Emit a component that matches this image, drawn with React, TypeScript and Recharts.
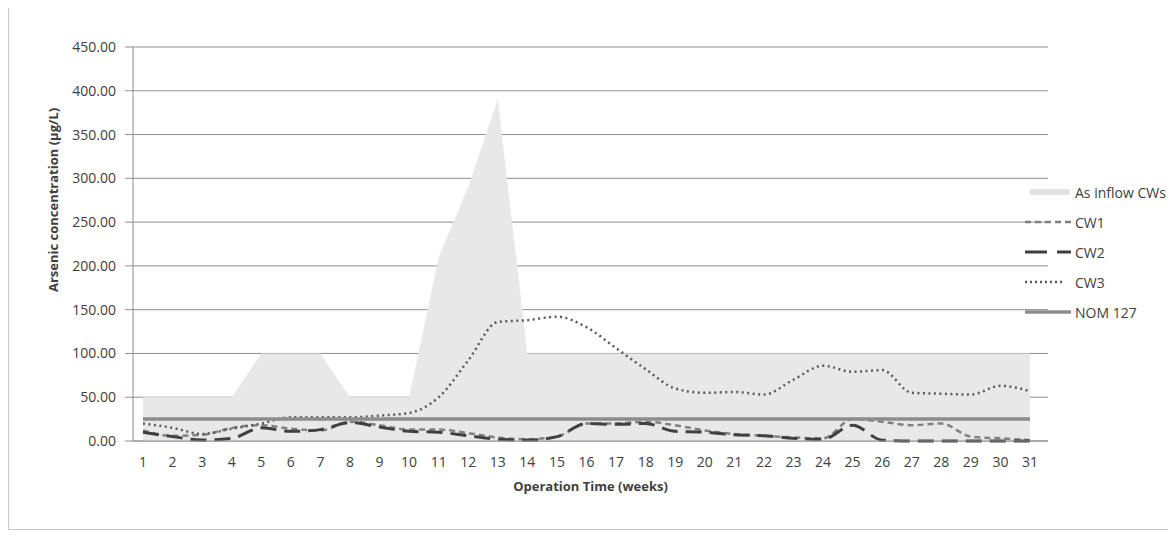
import { Area, CartesianGrid, ComposedChart, Legend, Line, XAxis, YAxis } from "recharts";

// operation weeks
const weeks = ["1", "2", "3", "4", "5", "6", "7", "8", "9", "10", "11", "12", "13", "14", "15", "16",
  "17", "18", "19", "20", "21", "22", "23", "24", "25", "26", "27", "28", "29", "30", "31"];

// arsenic concentration (µg/L)
const inflow = [50, 50, 50, 50, 100, 100, 100, 50, 50, 50, 210, 290, 390, 100, 100, 100,
  100, 100, 100, 100, 100, 100, 100, 100, 100, 100, 100, 100, 100, 100, 100];
const cw1 = [12, 6, 7, 15, 18, 14, 12, 22, 18, 13, 13, 9, 4, 2, 5, 20,
  20, 22, 18, 12, 8, 6, 4, 3, 25, 22, 18, 20, 5, 3, 1];
const cw2 = [10, 5, 1, 3, 15, 11, 13, 21, 16, 11, 10, 6, 2, 1, 5, 20,
  19, 20, 11, 10, 7, 6, 3, 2, 18, 1, 0, 0, 0, 0, 0];
const cw3 = [20, 15, 8, 14, 20, 27, 27, 27, 29, 32, 50, 92, 136, 138, 142, 130,
  106, 82, 60, 55, 56, 53, 70, 86, 79, 81, 55, 54, 53, 63, 57];
const nom127 = [25, 25, 25, 25, 25, 25, 25, 25, 25, 25, 25, 25, 25, 25, 25, 25,
  25, 25, 25, 25, 25, 25, 25, 25, 25, 25, 25, 25, 25, 25, 25];

const yTicks = [0, 50, 100, 150, 200, 250, 300, 350, 400, 450];

const data = weeks.map((week, i) => ({
  week,
  inflow: inflow[i],
  cw1: cw1[i],
  cw2: cw2[i],
  cw3: cw3[i],
  nom: nom127[i],
}));

const FONT = "'Open Sans', 'Liberation Sans', sans-serif";
const TEXT = "#404040";

const legendItems = [
  { key: "inflow", label: "As inflow CWs" },
  { key: "cw1", label: "CW1" },
  { key: "cw2", label: "CW2" },
  { key: "cw3", label: "CW3" },
  { key: "nom", label: "NOM 127" },
];

const swatch = (key: string) => {
  switch (key) {
    case "inflow":
      return <rect x={5} y={2} width={40} height={6} fill="#e2e2e2" />;
    case "cw1":
      return <line x1={0} x2={46} y1={5} y2={5} stroke="#808080" strokeWidth={2.5} strokeDasharray="6 4" />;
    case "cw2":
      return <line x1={0} x2={46} y1={5} y2={5} stroke="#404040" strokeWidth={3} strokeDasharray="22 10" />;
    case "cw3":
      return <line x1={0} x2={40} y1={5} y2={5} stroke="#595959" strokeWidth={2.5} strokeDasharray="2 3" />;
    default:
      return <line x1={0} x2={46} y1={5} y2={5} stroke="#8c8c8c" strokeWidth={3.5} />;
  }
};

const renderLegend = () => (
  <div style={{ fontFamily: FONT, fontSize: 14, color: TEXT }}>
    {legendItems.map((item) => (
      <div key={item.key} style={{ display: "flex", alignItems: "center", height: 30 }}>
        <svg width={46} height={10}>{swatch(item.key)}</svg>
        <span style={{ marginLeft: 4, whiteSpace: "nowrap" }}>{item.label}</span>
      </div>
    ))}
  </div>
);

const YTitle = (props: any) => {
  const vb = props.viewBox || { x: 44, y: 39, height: 394 };
  const x = vb.x;
  const y = vb.y + vb.height / 2 - 44;
  return (
    <text
      x={x}
      y={y}
      textAnchor="middle"
      dominantBaseline="central"
      transform={`rotate(-90 ${x} ${y})`}
      style={{ fontFamily: FONT, fontSize: 13, fontWeight: 700, fill: TEXT }}
    >
      Arsenic concentration (µg/L)
    </text>
  );
};

export default function App() {
  return (
    <div
      style={{
        width: 1168,
        height: 522,
        boxSizing: "border-box",
        borderLeft: "1px solid #c8c8c8",
        borderBottom: "1px solid #c8c8c8",
        overflow: "hidden",
        background: "#fff",
      }}
    >
      <ComposedChart width={1160} height={521} data={data} margin={{ top: 39, right: 121, bottom: 28, left: 44 }}>
        <CartesianGrid vertical={false} stroke="#8f8f8f" />
        <XAxis
          dataKey="week"
          interval={0}
          padding={{ left: 10, right: 18 }}
          tickLine={false}
          axisLine={{ stroke: "#8f8f8f" }}
          tickSize={6}
          tickMargin={10}
          height={60}
          tick={{ fontFamily: FONT, fontSize: 14, fill: TEXT }}
          label={{
            value: "Operation Time  (weeks)",
            position: "insideBottom",
            offset: 10,
            style: { fontFamily: FONT, fontSize: 13, fontWeight: 700, fill: TEXT },
          }}
        />
        <YAxis
          width={80}
          domain={[0, 450]}
          ticks={yTicks}
          interval={0}
          tickFormatter={(v: number) => v.toFixed(2)}
          tickSize={8}
          tickMargin={9}
          tickLine={{ stroke: "#8f8f8f" }}
          axisLine={{ stroke: "#8f8f8f" }}
          tick={{ fontFamily: FONT, fontSize: 14, fill: TEXT }}
          label={<YTitle />}
        />
        <Area
          type="linear"
          dataKey="inflow"
          name="As inflow CWs"
          stroke="none"
          fill="#e8e8e8"
          fillOpacity={1}
          isAnimationActive={false}
        />
        <Line
          type="monotone"
          dataKey="cw1"
          name="CW1"
          stroke="#808080"
          strokeWidth={2.5}
          strokeDasharray="6 4"
          dot={false}
          activeDot={false}
          isAnimationActive={false}
        />
        <Line
          type="monotone"
          dataKey="cw2"
          name="CW2"
          stroke="#404040"
          strokeWidth={3}
          strokeDasharray="16 8"
          dot={false}
          activeDot={false}
          isAnimationActive={false}
        />
        <Line
          type="monotone"
          dataKey="cw3"
          name="CW3"
          stroke="#595959"
          strokeWidth={2.5}
          strokeDasharray="2 3.5"
          dot={false}
          activeDot={false}
          isAnimationActive={false}
        />
        <Line
          type="linear"
          dataKey="nom"
          name="NOM 127"
          stroke="#8c8c8c"
          strokeWidth={3.5}
          dot={false}
          activeDot={false}
          isAnimationActive={false}
        />
        <Legend
          layout="vertical"
          align="center"
          verticalAlign="middle"
          content={renderLegend}
          wrapperStyle={{ left: 1016, top: 169, width: 160 }}
        />
      </ComposedChart>
    </div>
  );
}
